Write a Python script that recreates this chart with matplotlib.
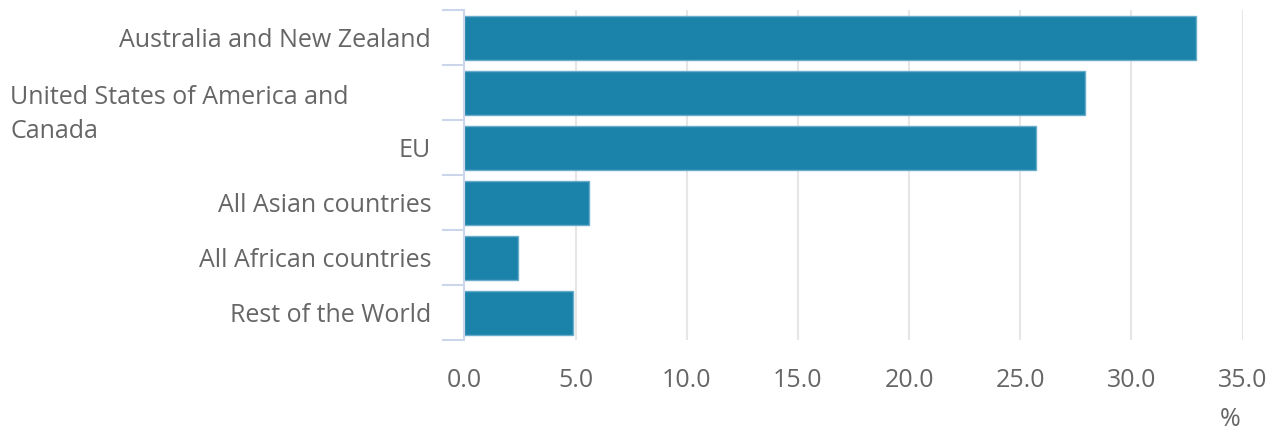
import matplotlib
matplotlib.use("Agg")
import matplotlib.pyplot as plt
import matplotlib.transforms as mtransforms
import numpy as np

categories = ["Australia and New Zealand", "United States of America and\nCanada", "EU",
              "All Asian countries", "All African countries", "Rest of the World"]
values = [32.9, 27.9, 25.7, 5.6, 2.4, 4.9]
xticks = [0, 5, 10, 15, 20, 25, 30, 35]
xticklabels = ["0.0", "5.0", "10.0", "15.0", "20.0", "25.0", "30.0", "35.0"]
unit_label = "%"

plt.rcParams['font.family'] = ['Open Sans', 'DejaVu Sans']
W, H = 1273, 434
fig = plt.figure(figsize=(W / 100, H / 100), dpi=100)
ax = fig.add_axes([464.5 / W, 1 - 340 / H, (1242.5 - 464.5) / W, 330 / H])

text_color = "#666666"
axis_color = "#ccd6eb"
grid_color = "#e6e6e6"
bar_color = "#1b83a9"
fs = 18

y = np.arange(len(categories))
ax.barh(y, values, height=0.8, color=bar_color, edgecolor="#6aaccb", linewidth=1, zorder=3)

ax.set_xlim(0, 35)
ax.set_ylim(len(categories) - 0.5, -0.5)

ax.set_xticks(xticks)
ax.set_xticklabels(xticklabels)
ax.tick_params(axis='x', length=0, pad=20, labelsize=fs, labelcolor=text_color)
ax.grid(axis='x', color=grid_color, linewidth=1.5, zorder=0)

# y ticks at band boundaries, labels at centres
ax.set_yticks(np.arange(len(categories) + 1) - 0.5)
ax.set_yticklabels([])
ax.tick_params(axis='y', which='major', length=16, width=1.5, color=axis_color, direction='out')
ax.set_yticks(y, minor=True)
labels = [c if "\n" not in c else "" for c in categories]
ax.set_yticklabels(labels, minor=True)
ax.tick_params(axis='y', which='minor', length=0, pad=24, labelsize=fs, labelcolor=text_color)

# wrapped label placed left-aligned
trans = mtransforms.blended_transform_factory(fig.transFigure, ax.transData)
for i, c in enumerate(categories):
    if "\n" in c:
        ax.text(10 / W, i - 0.13, c, transform=trans, ha='left', va='top', fontsize=fs,
                color=text_color, linespacing=1.45)

for s in ["top", "right", "bottom"]:
    ax.spines[s].set_visible(False)
ax.spines["left"].set_color(axis_color)
ax.spines["left"].set_linewidth(1.5)
ax.spines["left"].set_zorder(4)

fig.text(1230 / W, 1 - 420 / H, unit_label, ha='center', va='center', fontsize=fs, color=text_color)

fig.savefig("out.png", dpi=100)
